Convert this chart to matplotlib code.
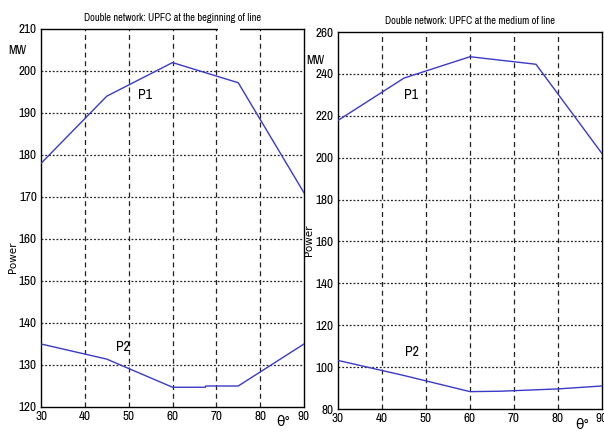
import matplotlib
matplotlib.use("Agg")
import matplotlib.pyplot as plt
from matplotlib.patches import Rectangle

plt.rcParams['font.family'] = ['Archivo Narrow', 'DejaVu Sans']

# left panel: UPFC at the beginning of line
theta_l = [30, 45, 60, 75, 90]
p1_l = [178, 194, 202, 197.2, 171]
theta_l2 = [30, 45, 60, 67.5, 67.6, 75, 90]
p2_l = [135, 131.4, 124.7, 124.7, 125, 125, 135]

# right panel: UPFC at the medium of line
theta_r = [30, 45, 60, 75, 90]
p1_r = [217.8, 238, 248.2, 244.6, 202]
theta_r2 = [30, 45, 60, 67, 80, 90]
p2_r = [103.2, 96, 88.3, 88.5, 89.6, 91]

xticks = [30, 40, 50, 60, 70, 80, 90]
yticks_l = [120, 130, 140, 150, 160, 170, 180, 190, 200, 210]
yticks_r = [80, 100, 120, 140, 160, 180, 200, 220, 240, 260]

titles = ["Double network: UPFC at the beginning of line",
          "Double network: UPFC at the medium of line"]

line_color = "#3a3ac8"

fig = plt.figure(figsize=(6.04, 4.32), dpi=100)
ax1 = fig.add_axes([0.0679, 0.0579, 0.4354, 0.875])
ax2 = fig.add_axes([0.5596, 0.0532, 0.437, 0.8727])


def style(ax, yticks, title):
    ax.set_xlim(30, 90)
    ax.set_ylim(yticks[0], yticks[-1])
    ax.set_xticks(xticks)
    ax.set_yticks(yticks)
    ax.tick_params(direction="in", length=0, labelsize=9.5, pad=3)
    for x in xticks[1:-1]:
        ax.axvline(x, color="#222222", lw=0.9, ls=(0, (4, 3)), zorder=1)
    for y in yticks[1:-1]:
        ax.axhline(y, color="#222222", lw=0.9, ls=(0, (1.5, 1.5)), zorder=1)
    for s in ax.spines.values():
        s.set_linewidth(1.0)
    ax.set_title(title, fontsize=7.5, pad=6)


style(ax1, yticks_l, titles[0])
style(ax2, yticks_r, titles[1])

ax1.plot(theta_l, p1_l, color=line_color, lw=1, zorder=3)
ax1.plot(theta_l2, p2_l, color=line_color, lw=1, zorder=3)
ax2.plot(theta_r, p1_r, color=line_color, lw=1, zorder=3)
ax2.plot(theta_r2, p2_r, color=line_color, lw=1, zorder=3)

ax1.text(53.7, 194.3, "P1", fontsize=10, ha="center", va="center")
ax1.text(48.7, 134.3, "P2", fontsize=10, ha="center", va="center")
ax2.text(46.7, 230, "P1", fontsize=10, ha="center", va="center")
ax2.text(46.7, 107.3, "P2", fontsize=10, ha="center", va="center")

# axis annotations
fig.text(17 / 604, 1 - 50 / 432, "MW", fontsize=9, ha="center", va="center")
fig.text(315 / 604, 1 - 60 / 432, "MW", fontsize=9, ha="center", va="center")
fig.text(13 / 604, 1 - 257 / 432, "Power", fontsize=7.5, rotation=90,
         ha="center", va="center", family="DejaVu Sans")
fig.text(309 / 604, 1 - 240 / 432, "Power", fontsize=7.5, rotation=90,
         ha="center", va="center", family="DejaVu Sans")
fig.text(283 / 604, 1 - 422 / 432, "θ°", fontsize=10, ha="center", va="center")
fig.text(582 / 604, 1 - 425 / 432, "θ°", fontsize=10, ha="center", va="center")

# small white gap on the top border of the left plot
fig.patches.append(Rectangle((218 / 604, 1 - 34 / 432), 22 / 604, 10 / 432,
                             transform=fig.transFigure, facecolor="white",
                             edgecolor="none", zorder=10))

fig.savefig("out.png", dpi=100)
